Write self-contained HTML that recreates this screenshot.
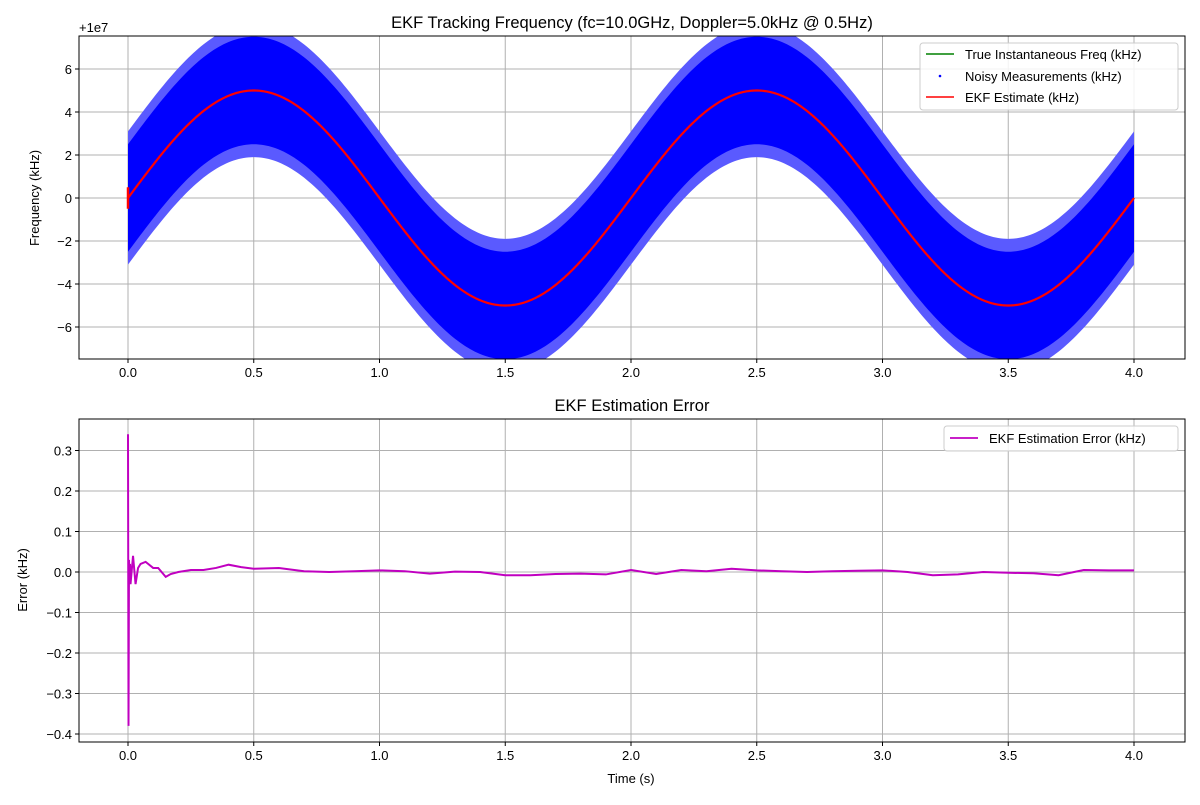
<!DOCTYPE html>
<html><head><meta charset="utf-8"><style>
body{margin:0;background:#fff;}
svg{font-family:"Liberation Sans","DejaVu Sans",sans-serif;}
</style></head><body>
<svg id="chart" width="1200" height="800" xmlns="http://www.w3.org/2000/svg">
<defs>
<clipPath id="c1"><rect x="79" y="36" width="1106" height="323"/></clipPath>
<clipPath id="c2"><rect x="79" y="419" width="1106" height="323"/></clipPath>
</defs>
<g id="gtop"></g>
<g id="gbot"></g>
</svg>
<script>
// data
const dopplerAmp = 5.0;      // kHz
const dopplerFreq = 0.5;     // Hz
const noiseHalfWidth = 2.5;  // kHz dense noise band
const noiseOuter = [2.5, 3.1];
const errT = [0,0.002,0.004,0.006,0.008,0.01,0.02,0.03,0.04,0.05,0.07,0.08,0.1,0.12,0.15,0.17,0.2,0.25,0.3,0.35,0.4,0.45,0.5,0.6,0.7,0.8,0.9,1.0,1.1,1.2,1.3,1.4,1.5,1.6,1.7,1.8,1.9,2.0,2.1,2.2,2.3,2.4,2.5,2.6,2.7,2.8,2.9,3.0,3.1,3.2,3.3,3.4,3.5,3.6,3.7,3.8,3.9,4.0];
const errV = [0.34,-0.38,0.03,-0.02,0.02,-0.03,0.04,-0.03,0.01,0.02,0.025,0.02,0.01,0.01,-0.012,-0.005,0,0.005,0.005,0.01,0.018,0.012,0.008,0.01,0.002,0,0.002,0.004,0.002,-0.004,0.001,0,-0.008,-0.008,-0.005,-0.004,-0.006,0.005,-0.005,0.005,0.002,0.008,0.004,0.002,0,0.002,0.003,0.004,0,-0.008,-0.006,0,-0.002,-0.003,-0.008,0.005,0.004,0.004];
const xTicks = [0,0.5,1,1.5,2,2.5,3,3.5,4];
const yTicksTop = [-6,-4,-2,0,2,4,6];
const yTicksBot = [-0.4,-0.3,-0.2,-0.1,0,0.1,0.2,0.3];

const NS="http://www.w3.org/2000/svg";
function mk(p,tag,a,txt){const e=document.createElementNS(NS,tag);for(const k in a)e.setAttribute(k,a[k]);if(txt!==undefined)e.textContent=txt;p.appendChild(e);return e;}
const L=79,R=1185;
const X=t=>128+(t)*251.5;
const Y1=v=>198-v*21.5;
const Y2=v=>572-v*405;
const minus=s=>s.replace('-','\u2212');

function axes(g,ty,by,Y,ticks,fmt){
  for(const t of xTicks){const l=mk(g,'line',{x1:X(t),x2:X(t),y1:ty,y2:by,stroke:'#b0b0b0','stroke-width':1});
    
    
    mk(g,'line',{x1:X(t),x2:X(t),y1:by,y2:by+4,stroke:'#000'});
    const tx=mk(g,'text',{x:X(t),y:by+18,'font-size':13,'text-anchor':'middle'},t.toFixed(1));
    
    }
  for(const v of ticks){const l=mk(g,'line',{x1:L,x2:R,y1:Y(v),y2:Y(v),stroke:'#b0b0b0','stroke-width':1});
    
    
    mk(g,'line',{x1:L-4,x2:L,y1:Y(v),y2:Y(v),stroke:'#000'});
    const tx=mk(g,'text',{x:L-7,y:Y(v)+5,'font-size':13,'text-anchor':'end'},minus(fmt(v)));
    
    }
}
const gTop=document.getElementById('gtop'), gBot=document.getElementById('gbot');
axes(gTop,36,359,Y1,yTicksTop,v=>v.toString());
const c1=mk(gTop,'g',{'clip-path':'url(#c1)'});
let up=[],dn=[],up2=[],dn2=[];
for(let i=0;i<=400;i++){const t=i*0.01;const f=dopplerAmp*Math.sin(2*Math.PI*dopplerFreq*t);
  up.push(X(t)+','+Y1(f+noiseHalfWidth));dn.unshift(X(t)+','+Y1(f-noiseHalfWidth));
  up2.push(X(t)+','+Y1(f+noiseOuter[1]));dn2.unshift(X(t)+','+Y1(f-noiseOuter[1]));}
const nb2=mk(c1,'polygon',{points:up2.concat(dn2).join(' '),fill:'#5a5aff'});


const nb=mk(c1,'polygon',{points:up.concat(dn).join(' '),fill:'#0000ff'});


let pts=[];for(let i=0;i<=800;i++){const t=i*0.005;pts.push(X(t)+','+Y1(dopplerAmp*Math.sin(2*Math.PI*dopplerFreq*t)));}
const tl=mk(c1,'polyline',{points:pts.join(' '),fill:'none',stroke:'green','stroke-width':1.5});


const el=mk(c1,'polyline',{points:pts.join(' '),fill:'none',stroke:'red','stroke-width':2.2});


mk(c1,'line',{x1:X(0),x2:X(0),y1:Y1(-0.5),y2:Y1(0.5),stroke:'red','stroke-width':2.5});
mk(gTop,'rect',{x:79,y:36,width:1106,height:323,fill:'none',stroke:'#000','stroke-width':1});
const t1=mk(gTop,'text',{x:632,y:28,'font-size':16.5,'text-anchor':'middle'},'EKF Tracking Frequency (fc=10.0GHz, Doppler=5.0kHz @ 0.5Hz)');


const off=mk(gTop,'text',{x:79,y:32,'font-size':13},'+1e7');


const yl1=mk(gTop,'text',{x:39,y:198,'font-size':13,'text-anchor':'middle',transform:'rotate(-90 39 198)'},'Frequency (kHz)');


const lg=mk(gTop,'g',{});


mk(lg,'rect',{x:920,y:43,width:258,height:67,fill:'#fff','fill-opacity':0.85,stroke:'#ccc',rx:3});
mk(lg,'line',{x1:926,x2:954,y1:54,y2:54,stroke:'green','stroke-width':1.5});
mk(lg,'text',{x:965,y:59,'font-size':13},'True Instantaneous Freq (kHz)');
mk(lg,'circle',{cx:940,cy:76,r:1.3,fill:'blue'});
mk(lg,'text',{x:965,y:81,'font-size':13},'Noisy Measurements (kHz)');
mk(lg,'line',{x1:926,x2:954,y1:97,y2:97,stroke:'red','stroke-width':1.5});
mk(lg,'text',{x:965,y:102,'font-size':13},'EKF Estimate (kHz)');

axes(gBot,419,742,Y2,yTicksBot,v=>v.toFixed(1));
const c2=mk(gBot,'g',{'clip-path':'url(#c2)'});
const ep=errT.map((t,i)=>X(t)+','+Y2(errV[i])).join(' ');
const er=mk(c2,'polyline',{points:ep,fill:'none',stroke:'#c000c0','stroke-width':2});


mk(gBot,'rect',{x:79,y:419,width:1106,height:323,fill:'none',stroke:'#000','stroke-width':1});
const t2=mk(gBot,'text',{x:632,y:411,'font-size':16.5,'text-anchor':'middle'},'EKF Estimation Error');


const yl2=mk(gBot,'text',{x:27,y:580,'font-size':13,'text-anchor':'middle',transform:'rotate(-90 27 580)'},'Error (kHz)');


const xl=mk(gBot,'text',{x:631,y:783,'font-size':13,'text-anchor':'middle'},'Time (s)');


const lg2=mk(gBot,'g',{});


mk(lg2,'rect',{x:944,y:426,width:234,height:25,fill:'#fff','fill-opacity':0.85,stroke:'#ccc',rx:3});
mk(lg2,'line',{x1:950,x2:978,y1:438,y2:438,stroke:'#c000c0','stroke-width':1.8});
mk(lg2,'text',{x:989,y:443,'font-size':13},'EKF Estimation Error (kHz)');
</script>
</body></html>
